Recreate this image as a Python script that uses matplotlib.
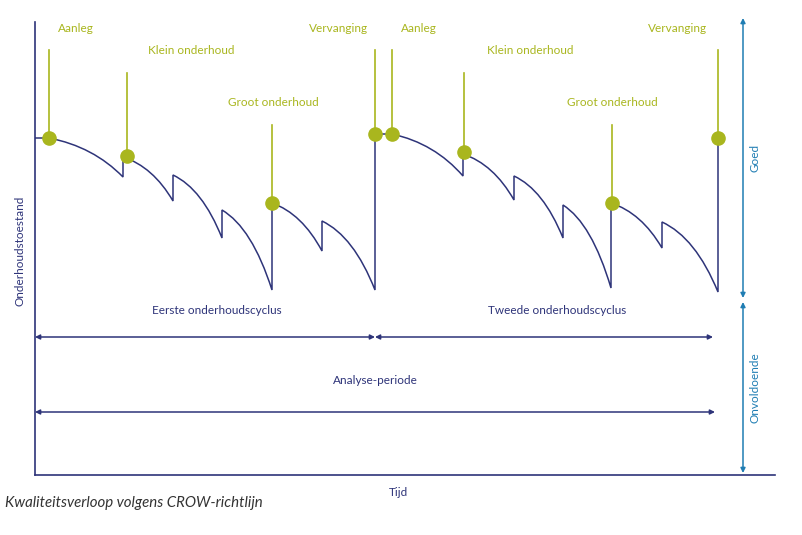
import matplotlib.pyplot as plt
from matplotlib.path import Path
from matplotlib.patches import PathPatch

plt.rcParams['font.family'] = ['Lato', 'DejaVu Sans']

navy = "#2e3479"
green = "#a9b61e"
blue = "#1f7db3"

# curve segments: (t0, c0, t1, c1), time / condition units
seg_t0 = [1.4, 8.8, 13.8, 18.7, 23.7, 28.7, 35.7, 42.8, 47.9, 52.8, 57.6, 62.7]
seg_c0 = [33.7, 31.8, 30.0, 26.5, 27.2, 25.4, 34.1, 32.1, 29.9, 27.0, 27.2, 25.3]
seg_t1 = [8.8, 13.8, 18.7, 23.7, 28.7, 34.0, 42.8, 47.9, 52.8, 57.6, 62.7, 68.3]
seg_c1 = [29.8, 27.4, 23.7, 18.5, 22.4, 18.5, 29.9, 27.5, 23.7, 18.7, 22.7, 18.3]
start_c = 33.7
repl_c = [34.1, 33.7]

# events
ev_names = ["Aanleg", "Klein onderhoud", "Groot onderhoud", "Vervanging",
            "Aanleg", "Klein onderhoud", "Groot onderhoud", "Vervanging"]
ev_t = [1.4, 9.2, 23.7, 34.0, 35.7, 42.9, 57.7, 68.3]
ev_c = [33.7, 31.9, 27.2, 34.1, 34.1, 32.3, 27.2, 33.7]
stem_top = [42.5, 40.2, 35.0, 42.5, 42.5, 40.2, 35.0, 42.5]
lab_t = [4.1, 15.6, 23.8, 30.4, 38.4, 49.5, 57.7, 64.3]
lab_c = [44.6, 42.5, 37.3, 44.6, 44.6, 42.5, 37.3, 44.6]

fig = plt.figure(figsize=(8.03, 5.35), dpi=100)
ax = fig.add_axes([35 / 803, 60 / 535, 740 / 803, 453 / 535])
ax.set_xlim(0, 74)
ax.set_ylim(0, 45.3)
for s in ["top", "right"]:
    ax.spines[s].set_visible(False)
for s in ["left", "bottom"]:
    ax.spines[s].set_color(navy)
    ax.spines[s].set_linewidth(1.2)
ax.set_xticks([])
ax.set_yticks([])

# condition curve
verts = [(0, start_c), (seg_t0[0], seg_c0[0])]
codes = [Path.MOVETO, Path.LINETO]
for i in range(len(seg_t0)):
    if i > 0:
        if i == 6:
            verts.append((seg_t1[5], repl_c[0]))
            codes.append(Path.LINETO)
        verts.append((seg_t0[i], seg_c0[i]))
        codes.append(Path.LINETO)
    dt = seg_t1[i] - seg_t0[i]
    dc = seg_c1[i] - seg_c0[i]
    verts.append((seg_t0[i] + 0.6 * dt, seg_c0[i] + 0.22 * dc))
    verts.append((seg_t1[i], seg_c1[i]))
    codes += [Path.CURVE3, Path.CURVE3]
verts.append((seg_t1[-1], repl_c[1]))
codes.append(Path.LINETO)
ax.add_patch(PathPatch(Path(verts, codes), facecolor="none", edgecolor=navy, lw=1.1))

# events
for i in range(len(ev_t)):
    ax.plot([ev_t[i], ev_t[i]], [ev_c[i], stem_top[i]], color=green, lw=1.2)
    ax.text(lab_t[i], lab_c[i], ev_names[i], color=green, fontsize=8.5,
            ha="center", va="center")
ax.plot(ev_t, ev_c, "o", color=green, markersize=9.5, linestyle="none", zorder=5)

# periods
arr = dict(arrowstyle="<|-|>", color=navy, lw=1.1, mutation_scale=7, shrinkA=0, shrinkB=0)
ax.annotate("", xy=(0, 13.8), xytext=(34.0, 13.8), arrowprops=arr)
ax.annotate("", xy=(34.0, 13.8), xytext=(67.8, 13.8), arrowprops=arr)
ax.annotate("", xy=(0, 6.3), xytext=(68.0, 6.3), arrowprops=arr)
ax.text(18.2, 16.5, "Eerste onderhoudscyclus", color=navy, fontsize=8.5, ha="center", va="center")
ax.text(52.2, 16.5, "Tweede onderhoudscyclus", color=navy, fontsize=8.5, ha="center", va="center")
ax.text(34.0, 9.4, "Analyse-periode", color=navy, fontsize=8.5, ha="center", va="center")

# quality scale
barr = dict(arrowstyle="<|-|>", color=blue, lw=1.1, mutation_scale=7, shrinkA=0, shrinkB=0)
ax.annotate("", xy=(70.8, 45.7), xytext=(70.8, 17.7), arrowprops=barr, annotation_clip=False)
ax.annotate("", xy=(70.8, 17.3), xytext=(70.8, 0.2), arrowprops=barr, annotation_clip=False)
ax.text(72.0, 31.7, "Goed", color=blue, fontsize=8.5, rotation=90, ha="center", va="center")
ax.text(72.0, 8.7, "Onvoldoende", color=blue, fontsize=8.5, rotation=90, ha="center", va="center")

ax.text(-1.5, 22.4, "Onderhoudstoestand", color=navy, fontsize=8.5, rotation=90,
        ha="center", va="center", clip_on=False)
ax.text(36.3, -1.8, "Tijd", color=navy, fontsize=8.5, ha="center", va="center", clip_on=False)

fig.text(5 / 803, 1 - 503 / 535, "Kwaliteitsverloop volgens CROW-richtlijn",
         style="italic", color="#333333", fontsize=10.8, ha="left", va="center")

fig.savefig("out.png", dpi=100)
